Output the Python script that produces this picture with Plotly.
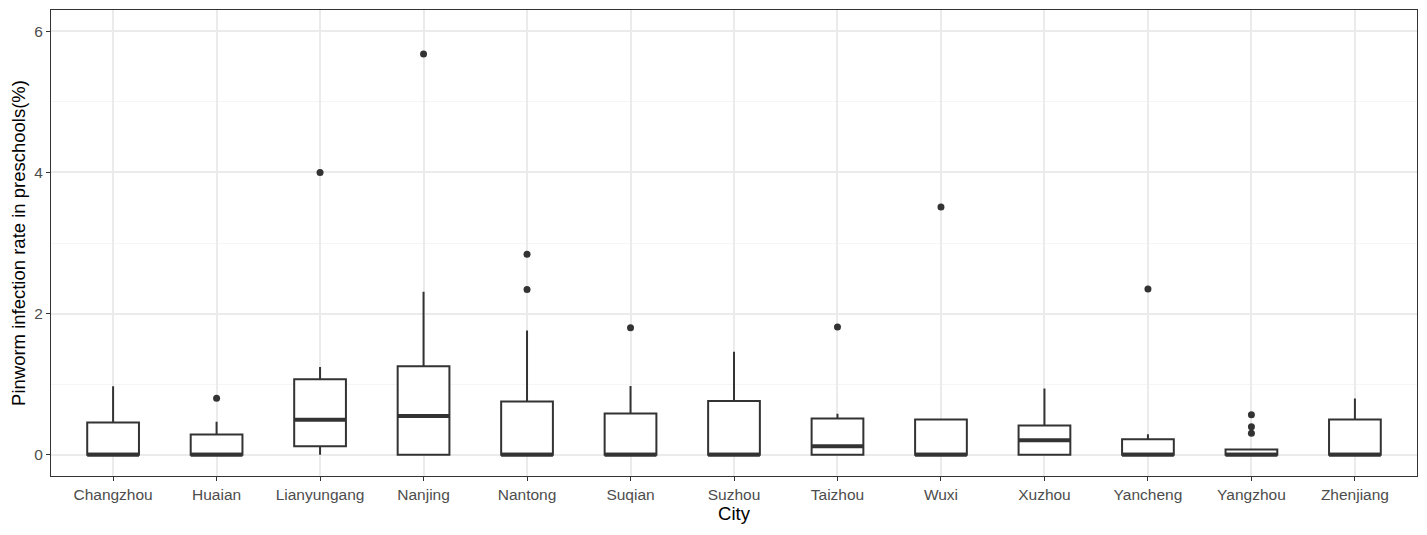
import plotly.graph_objects as go

cities = ["Changzhou", "Huaian", "Lianyungang", "Nanjing", "Nantong", "Suqian", "Suzhou",
          "Taizhou", "Wuxi", "Xuzhou", "Yancheng", "Yangzhou", "Zhenjiang"]
q1 = [0, 0, 0.12, 0, 0, 0, 0, 0, 0, 0, 0, 0, 0]
median = [0, 0, 0.495, 0.55, 0, 0, 0, 0.12, 0, 0.207, 0, 0, 0]
q3 = [0.457, 0.287, 1.07, 1.253, 0.754, 0.584, 0.764, 0.513, 0.50, 0.414, 0.22, 0.075, 0.50]
lower = [0, 0, 0, 0, 0, 0, 0, 0, 0, 0, 0, 0, 0]
upper = [0.97, 0.47, 1.245, 2.31, 1.76, 0.976, 1.46, 0.58, 0.50, 0.938, 0.29, 0.075, 0.796]
outlier_city = ["Huaian", "Lianyungang", "Nanjing", "Nantong", "Nantong", "Suqian",
                "Taizhou", "Wuxi", "Yancheng", "Yangzhou", "Yangzhou", "Yangzhou"]
outlier_val = [0.80, 4.0, 5.676, 2.34, 2.84, 1.80, 1.81, 3.51, 2.35, 0.566, 0.396, 0.306]
y_ticks = [0, 2, 4, 6]

pos = list(range(len(cities)))
idx = {c: i for i, c in enumerate(cities)}
box_w = 0.5
dark = "#333333"

fig = go.Figure()
fig.add_trace(go.Box(
    x=pos, q1=q1, median=median, q3=q3, lowerfence=lower, upperfence=upper,
    width=box_w, whiskerwidth=0, fillcolor="white", line=dict(color=dark, width=2),
    boxpoints=False, showlegend=False, hoverinfo="skip"))

mx, my = [], []
for i, m in zip(pos, median):
    mx += [i - box_w / 2, i + box_w / 2, None]
    my += [m, m, None]
fig.add_trace(go.Scatter(x=mx, y=my, mode="lines", line=dict(color=dark, width=4),
                         showlegend=False, hoverinfo="skip"))

fig.add_trace(go.Scatter(
    x=[idx[c] for c in outlier_city], y=outlier_val, mode="markers",
    marker=dict(color=dark, size=7), showlegend=False, hoverinfo="skip"))

# page body has an 8px default margin, so the figure is sized to fit inside it
fig.update_layout(
    width=1411, height=519,
    margin=dict(l=43, r=2, t=2, b=51, autoexpand=False),
    paper_bgcolor="white", plot_bgcolor="white",
    font=dict(family="Liberation Sans, Arial, sans-serif"),
)
fig.update_xaxes(
    range=[-0.6, len(cities) - 0.4], tickmode="array", tickvals=pos, ticktext=cities,
    showgrid=True, gridcolor="#EBEBEB", gridwidth=1.5, zeroline=False, automargin=False,
    ticks="outside", ticklen=4, tickcolor=dark, tickwidth=1,
    tickfont=dict(size=15.5, color="#4D4D4D"),
    showline=True, linecolor=dark, linewidth=1, mirror=True,
    title=dict(text="City", font=dict(size=18.5, color="black"), standoff=4),
)
fig.update_yaxes(
    range=[-0.3, 6.3], tickmode="array", tickvals=y_ticks,
    showgrid=True, gridcolor="#EBEBEB", gridwidth=1.5, zeroline=False, automargin=False,
    minor=dict(dtick=1, tick0=0, showgrid=True, gridcolor="#F5F5F5", gridwidth=0.8),
    ticks="outside", ticklen=4, tickcolor=dark, tickwidth=1,
    tickfont=dict(size=15.5, color="#4D4D4D"),
    showline=True, linecolor=dark, linewidth=1, mirror=True,
    title=dict(text="Pinworm infection rate in preschools(%)", font=dict(size=18.5, color="black"), standoff=6),
)

fig.write_html("out.html")
